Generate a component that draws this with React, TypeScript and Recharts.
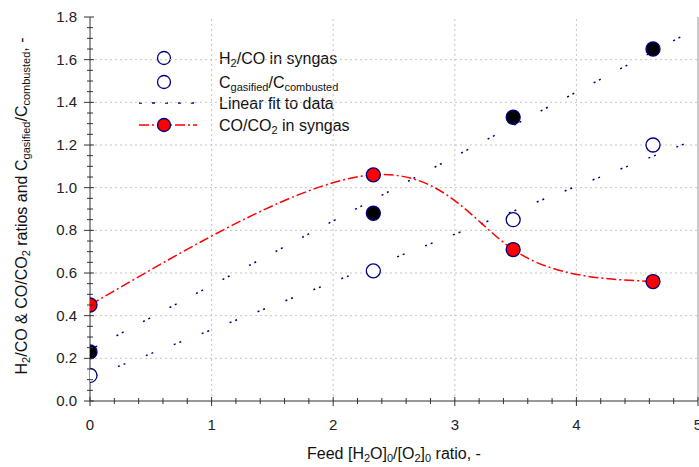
import { ComposedChart, Line, XAxis, YAxis, ReferenceLine } from "recharts";

// feed [H2O]0/[O2]0 ratio
const feedRatio = [0, 2.33, 3.48, 4.63];
const h2CoRatio = [0.12, 0.61, 0.85, 1.2];
const carbonRatio = [0.23, 0.88, 1.33, 1.65];
const coCo2Ratio = [0.45, 1.06, 0.71, 0.56];

// linear fit end points
const fitX = [0, 5];
const h2CoFit = [0.11, 1.23];
const carbonFit = [0.24, 1.75];

const xGrid = [1, 2, 3, 4];
const yGrid = [0.2, 0.4, 0.6, 0.8, 1.0, 1.2, 1.4, 1.6];
const xTicks = Array.from({ length: 26 }, (_, i) => Math.round(i * 2) / 10);
const yTicks = Array.from({ length: 37 }, (_, i) => Math.round(i * 5) / 100);

const FONT = "'Liberation Sans', Arial, sans-serif";
const NAVY = "#00007f";
const FIT_DASH = "2 4 2 22";
const CURVE_DASH = "10 3 2 3";

const points = feedRatio.map((x, i) => ({ x, h2co: h2CoRatio[i], carbon: carbonRatio[i], coco2: coCo2Ratio[i] }));
const h2Fit = fitX.map((x, i) => ({ x, v: h2CoFit[i] }));
const cFit = fitX.map((x, i) => ({ x, v: carbonFit[i] }));

const XTick = (props: any) => {
  const { x, y, payload } = props;
  const v = payload.value;
  const major = Math.abs(v - Math.round(v)) < 1e-6;
  return (
    <g>
      <line x1={x} x2={x} y1={major ? y - 4 : y - 3} y2={major ? y + 5 : y + 3} stroke="#333" />
      {major && (
        <text x={x} y={y + 29} textAnchor="middle" fontSize={15} fontFamily={FONT} fill="#222">
          {v}
        </text>
      )}
    </g>
  );
};

const YTick = (props: any) => {
  const { x, y, payload } = props;
  const v = payload.value;
  const major = Math.abs(v * 5 - Math.round(v * 5)) < 1e-6;
  return (
    <g>
      <line x1={major ? x - 6 : x - 3} x2={major ? x + 4 : x + 3} y1={y} y2={y} stroke="#333" />
      {major && (
        <text x={x - 13} y={y + 5} textAnchor="end" fontSize={15} fontFamily={FONT} fill="#222">
          {v.toFixed(1)}
        </text>
      )}
    </g>
  );
};

const Sub = ({ children }: { children: string }) => (
  <tspan baselineShift="-25%" fontSize={11}>{children}</tspan>
);

export default function App() {
  return (
    <div style={{ position: "absolute", left: 0, top: 0, background: "#fff" }}>
      <ComposedChart width={699} height={467} margin={{ top: 17, right: 1, bottom: 0, left: 0 }}>
        <XAxis
          dataKey="x"
          type="number"
          domain={[0, 5]}
          ticks={xTicks}
          interval={0}
          allowDataOverflow
          height={66}
          tickSize={0}
          tickMargin={0}
          tickLine={false}
          tick={<XTick />}
          axisLine={{ stroke: "#333" }}
        />
        <YAxis
          type="number"
          domain={[0, 1.8]}
          ticks={yTicks}
          interval={0}
          allowDataOverflow
          width={90}
          tickSize={0}
          tickMargin={0}
          tickLine={false}
          tick={<YTick />}
          axisLine={{ stroke: "#333" }}
        />
        {yGrid.map((v) => (
          <ReferenceLine key={"h" + v} y={v} stroke="#c4c4c4" strokeDasharray="2 3" />
        ))}
        {xGrid.map((v) => (
          <ReferenceLine key={"v" + v} x={v} stroke="#c4c4c4" strokeDasharray="2 3" />
        ))}
        <ReferenceLine x={5} stroke="#999" />
        <Line data={h2Fit} dataKey="v" stroke={NAVY} strokeWidth={1.5} strokeDasharray={FIT_DASH} dot={false} activeDot={false} isAnimationActive={false} />
        <Line data={cFit} dataKey="v" stroke={NAVY} strokeWidth={1.5} strokeDasharray={FIT_DASH} dot={false} activeDot={false} isAnimationActive={false} />
        <Line data={points} dataKey="coco2" type="natural" stroke="#ff0000" strokeWidth={1.5} strokeDasharray={CURVE_DASH} dot={{ r: 7, fill: "#ff0000", stroke: NAVY, strokeWidth: 1.3, strokeDasharray: "" }} activeDot={false} isAnimationActive={false} />
        <Line data={points} dataKey="h2co" stroke="none" dot={{ r: 7, fill: "#fff", stroke: NAVY, strokeWidth: 1.3 }} activeDot={false} isAnimationActive={false} />
        <Line data={points} dataKey="carbon" stroke="none" dot={{ r: 7, fill: "#000", stroke: NAVY, strokeWidth: 1.3 }} activeDot={false} isAnimationActive={false} />

        {/* legend */}
        <g fontFamily={FONT} fontSize={16} fill="#111">
          <circle cx={164} cy={58} r={6.5} fill="#fff" stroke={NAVY} strokeWidth={1.3} />
          <text x={219} y={64}>H<Sub>2</Sub>/CO in syngas</text>
          <circle cx={164} cy={82} r={6.5} fill="#fff" stroke={NAVY} strokeWidth={1.3} />
          <text x={219} y={88}>C<Sub>gasified</Sub>/C<Sub>combusted</Sub></text>
          <line x1={139} x2={197} y1={103} y2={103} stroke={NAVY} strokeWidth={1.5} strokeDasharray="3 10 3 10" />
          <text x={219} y={109}>Linear fit to data</text>
          <line x1={139} x2={197} y1={125} y2={125} stroke="#ff0000" strokeWidth={1.5} strokeDasharray={CURVE_DASH} />
          <circle cx={164} cy={125} r={6.5} fill="#ff0000" stroke={NAVY} strokeWidth={1.3} />
          <text x={219} y={131}>CO/CO<Sub>2</Sub> in syngas</text>
        </g>

        {/* axis titles */}
        <text x={394} y={459} textAnchor="middle" fontFamily={FONT} fontSize={16} fill="#111">
          Feed [H<Sub>2</Sub>O]<Sub>0</Sub>/[O<Sub>2</Sub>]<Sub>0</Sub> ratio, -
        </text>
        <text transform="translate(27 206) rotate(-90)" textAnchor="middle" fontFamily={FONT} fontSize={16} fill="#111">
          H<Sub>2</Sub>/CO &amp; CO/CO<Sub>2</Sub> ratios and C<Sub>gasified</Sub>/C<Sub>combusted</Sub>, -
        </text>
      </ComposedChart>
    </div>
  );
}
